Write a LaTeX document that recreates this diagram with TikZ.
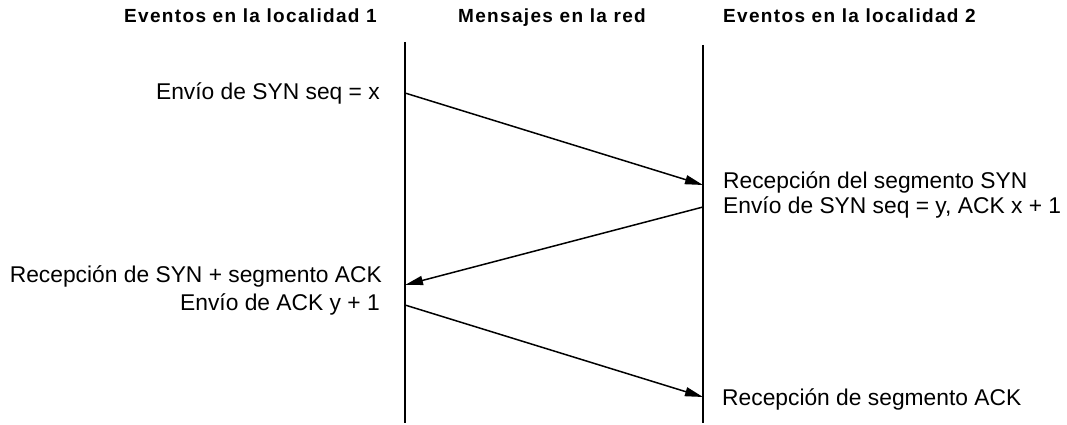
\documentclass[tikz,border=0pt]{standalone}
\usepackage{fontspec}
\setmainfont{Liberation Sans}
\newfontfamily\hdfont[LetterSpace=7]{Liberation Sans}
\usetikzlibrary{arrows.meta}
\begin{document}
\begin{tikzpicture}[x=1pt,y=-1pt,
  hdr/.style={font=\hdfont\bfseries\fontsize{19}{21}\selectfont, inner sep=0pt},
  lbl/.style={font=\fontsize{22.8}{24}\selectfont, inner sep=0pt},
  lifeline/.style={line width=1.2pt},
  msg/.style={line width=1.5pt, -{Triangle[length=18pt,width=9pt]}}]
\useasboundingbox (0,0) rectangle (1067,425);
% headers
\node[hdr, anchor=base west] (h1) at (124,22.7) {Eventos en la localidad 1};
\node[hdr, anchor=base] (h2) at (552,22.7) {Mensajes en la red};
\node[hdr, anchor=base west] (h3) at (723,22.7) {Eventos en la localidad 2};
% lifelines
\coordinate (l1top) at (405,42);
\coordinate (l1bot) at (405,423);
\coordinate (l2top) at (703,45);
\coordinate (l2bot) at (703,423);
\draw[lifeline] (l1top) -- (l1bot);
\draw[lifeline] (l2top) -- (l2bot);
% message points
\coordinate (a1) at (405,93);
\coordinate (b1) at (703,185);
\coordinate (b2) at (703,207);
\coordinate (a2) at (405,285);
\coordinate (a3) at (405,305);
\coordinate (b3) at (703,397);
\draw[msg] (a1) -- (b1);
\draw[msg] (b2) -- (a2);
\draw[msg] (a3) -- (b3);
% labels
\node[lbl, anchor=base east] (t1) at (380,100) {Envío de SYN seq = x};
\node[lbl, anchor=base west] (t2) at (723,188) {Recepción del segmento SYN};
\node[lbl, anchor=base west] (t3) at (723,213) {Envío de SYN seq = y, ACK x + 1};
\node[lbl, anchor=base east] (t4) at (382,282) {Recepción de SYN + segmento ACK};
\node[lbl, anchor=base east] (t5) at (380,310) {Envío de ACK y + 1};
\node[lbl, anchor=base west] (t6) at (722,405) {Recepción de segmento ACK};
\end{tikzpicture}
\end{document}
